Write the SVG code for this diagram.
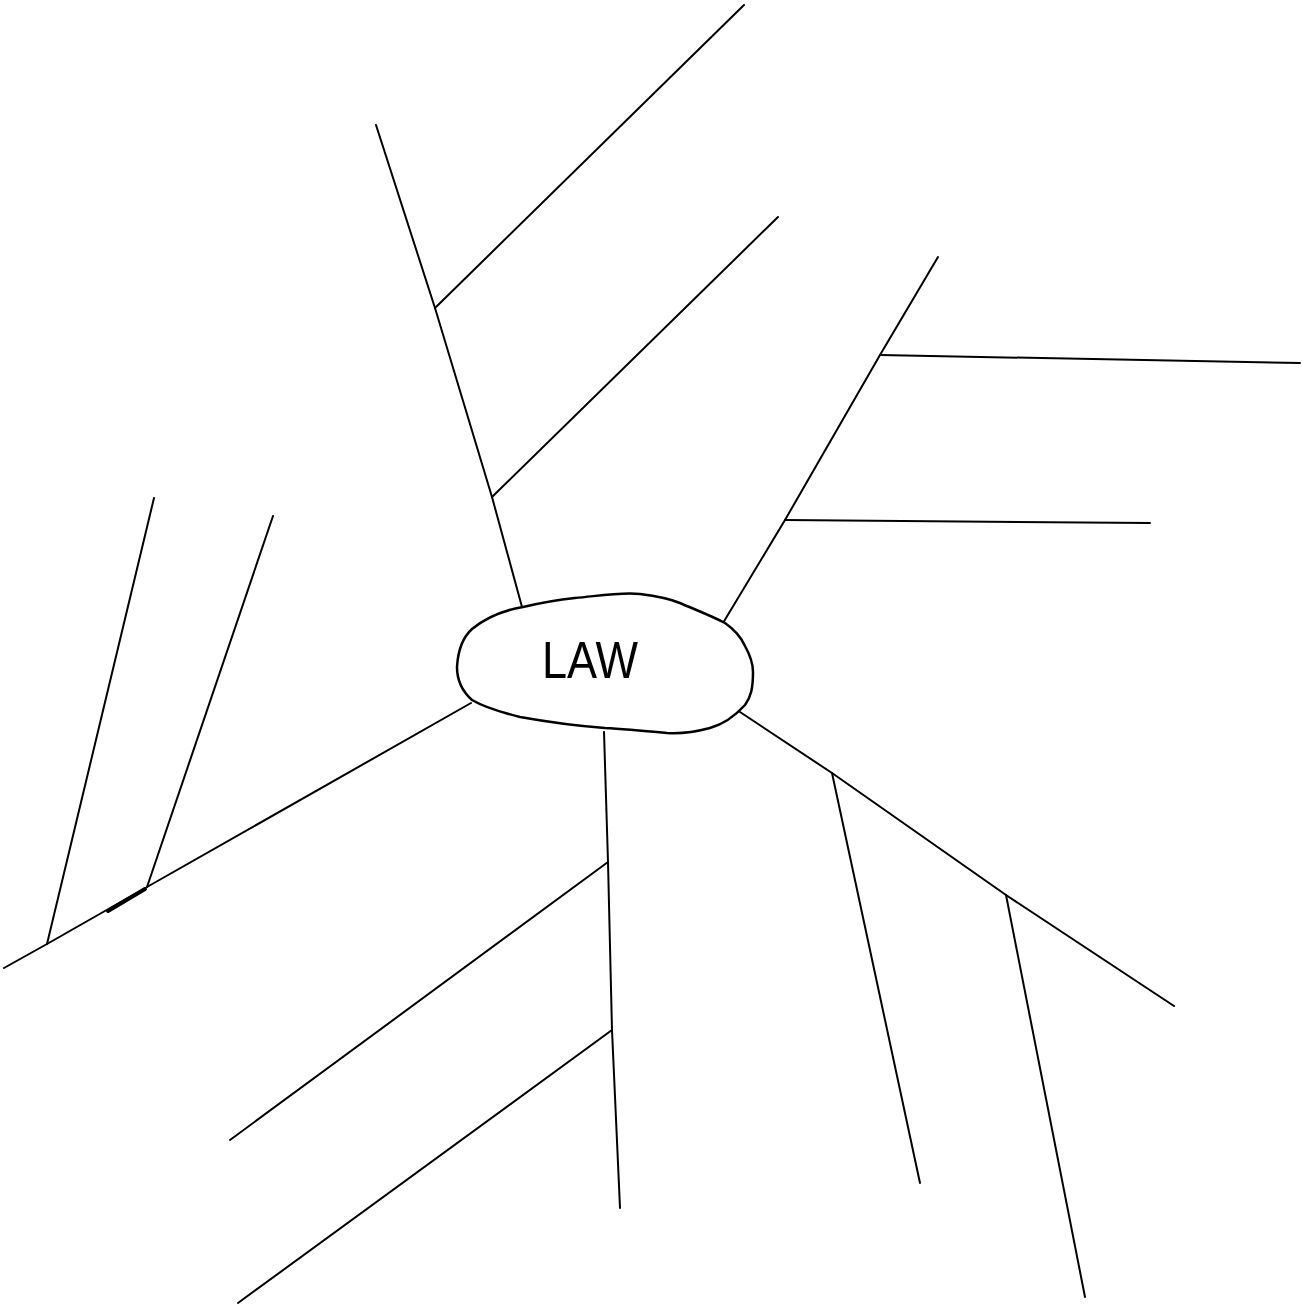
<svg xmlns="http://www.w3.org/2000/svg" width="1302" height="1307" viewBox="0 0 1302 1307">
<style>
.c{stroke:#000;stroke-width:2;fill:none;stroke-linecap:round;stroke-linejoin:round}
.n{stroke:#000;stroke-width:2.5;fill:#fff}
.t{font-family:"Liberation Sans",Arial,sans-serif;font-size:52px;fill:#000}
</style>
<rect width="1302" height="1307" fill="#fff"/>
<g id="connectors">
<polyline class="c" points="376,125 435,308 492,497 522,607"/>
<line class="c" x1="435" y1="308" x2="744" y2="5"/>
<line class="c" x1="492" y1="497" x2="778" y2="217"/>
<polyline class="c" points="938,257 880,355 785,520 723,623"/>
<line class="c" x1="880" y1="355" x2="1300" y2="363"/>
<line class="c" x1="785" y1="520" x2="1150" y2="523"/>
<polyline class="c" points="471,703 147,887 47,944 4,968"/>
<line class="c" x1="147" y1="887" x2="273" y2="516"/>
<line class="c" x1="47" y1="944" x2="154" y2="498"/>
<line x1="108" y1="911" x2="145" y2="889" stroke="#000" stroke-width="4" stroke-linecap="round"/>
<polyline class="c" points="604,732 608,862 612,1030 620,1208"/>
<line class="c" x1="608" y1="862" x2="230" y2="1140"/>
<line class="c" x1="612" y1="1030" x2="238" y2="1303"/>
<polyline class="c" points="740,712 832,773 1006,895 1174,1006"/>
<line class="c" x1="832" y1="773" x2="920" y2="1183"/>
<line class="c" x1="1006" y1="895" x2="1085" y2="1297"/>
</g>
<g id="law">
<path class="n" d="M457,667 C458,650 462,638 472,629 C488,616 505,610 523,607 C540,603 556,600 575,598 C598,596 620,592 640,594 C656,596 668,598 680,603 C696,610 712,616 725,623 C735,630 741,637 745,646 C750,655 753,662 753,672 C753,688 751,697 745,705 C735,716 724,724 710,728 C695,732 682,734 667,733 C646,731 625,729 605,728 C578,726 548,722 520,717 C500,712 484,707 472,700 C463,692 457,680 457,667 Z"/>
<text class="t" x="542" y="678" textLength="96" lengthAdjust="spacingAndGlyphs">LAW</text>
</g>
</svg>
